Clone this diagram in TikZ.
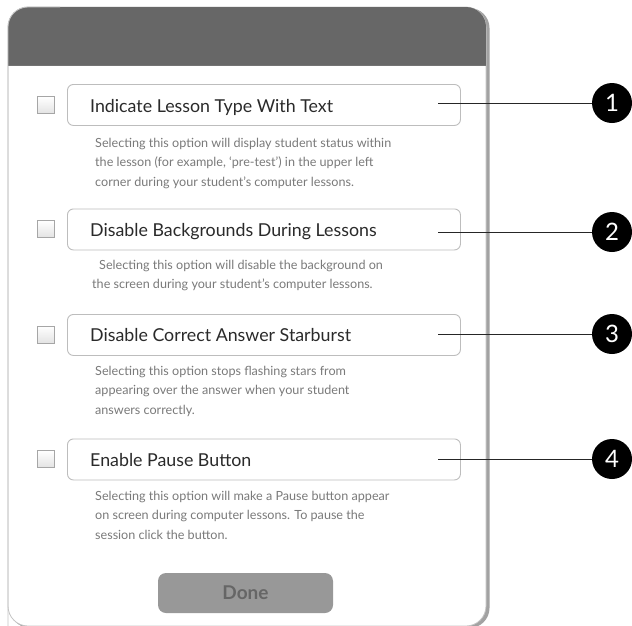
\documentclass[tikz,border=0pt]{standalone}
\usepackage{fontspec}
\setmainfont{Lato}
\definecolor{hdr}{HTML}{676767}
\definecolor{edge}{HTML}{C4C4C4}
\definecolor{shadowc}{HTML}{A2A2A2}
\definecolor{boxline}{HTML}{BDBDBD}
\definecolor{titlec}{HTML}{2A2A2A}
\definecolor{descc}{HTML}{7A7A7A}
\definecolor{donefill}{HTML}{989898}
\definecolor{donetext}{HTML}{666666}
\begin{document}
\begin{tikzpicture}[x=1pt,y=-1pt,
  optbox/.style={draw=boxline, line width=0.9pt, rounded corners=6pt, fill=white,
    minimum width=393pt, minimum height=41pt, anchor=north west, inner sep=0pt},
  chkbox/.style={draw=gray!70, line width=0.7pt, top color=white, bottom color=gray!22,
    minimum size=17pt, inner sep=0pt},
  titletext/.style={anchor=base west, inner sep=0pt, text=titlec, font=\fontsize{17.8}{19}\selectfont},
  desctext/.style={anchor=base west, inner sep=0pt, text=descc, font=\fontsize{12.6}{14}\selectfont},
  numdot/.style={circle, fill=black, minimum size=40pt, inner sep=0pt, text=white,
    font=\fontsize{24}{26}\selectfont},
  connector/.style={draw=black!85, line width=0.9pt},
  donebtn/.style={fill=donefill, rounded corners=8pt, minimum width=175pt, minimum height=40pt,
    inner sep=0pt, text=donetext, font=\bfseries\fontsize{19}{21}\selectfont}
]
\useasboundingbox (0,0) rectangle (632,625);
\begin{scope}
\clip (0,0) rectangle (632,625);
% panel shadow and panel
\fill[shadowc, rounded corners=20pt] (10,8) rectangle (489.5,628);
\fill[white, draw=edge, line width=0.8pt, rounded corners=20pt] (8,7) rectangle (486,626);
\begin{scope}
  \clip[rounded corners=20pt] (8,7) rectangle (486,626);
  \fill[hdr] (8,7) rectangle (486,65);
  \draw[black!55, line width=0.8pt] (8,65) -- (486,65);
\end{scope}
\draw[edge, line width=0.8pt, rounded corners=20pt] (8,626) -- (8,7) -- (60,7);

% option boxes
\node[optbox] (b1) at (67,84) {};
\node[optbox] (b2) at (67,208.5) {};
\node[optbox] (b3) at (67,314) {};
\node[optbox] (b4) at (67,438.5) {};

\node[chkbox] (k1) at (46,105) {};
\node[chkbox] (k2) at (46,229) {};
\node[chkbox] (k3) at (46,334.5) {};
\node[chkbox] (k4) at (46,459) {};

\node[titletext] (t1) at (90,112) {Indicate Lesson Type With Text};
\node[titletext] (t2) at (90,236) {Disable Backgrounds During Lessons};
\node[titletext] (t3) at (90,341.5) {Disable Correct Answer Starburst};
\node[titletext] (t4) at (90,466) {Enable Pause Button};

% descriptions
\node[desctext] (d1a) at (95,147) {Selecting this option will display student status within};
\node[desctext] (d1b) at (95,166.5) {the lesson (for example, `pre-test') in the upper left};
\node[desctext] (d1c) at (95,186) {corner during your student's computer lessons.};
\node[desctext] (d2a) at (99,269) {Selecting this option will disable the background on};
\node[desctext] (d2b) at (92,288.5) {the screen during your student's computer lessons.};
\node[desctext] (d3a) at (95,375) {Selecting this option stops flashing stars from};
\node[desctext] (d3b) at (95,394.5) {appearing over the answer when your student};
\node[desctext] (d3c) at (95,414) {answers correctly.};
\node[desctext] (d4a) at (95,500) {Selecting this option will make a Pause button appear};
\node[desctext] (d4b) at (95,519.5) {on screen during computer lessons. To pause the};
\node[desctext] (d4c) at (95,539) {session click the button.};

% callouts
\node[numdot] (c1) at (612,103) {1};
\node[numdot] (c2) at (612,232) {2};
\node[numdot] (c3) at (612,334) {3};
\node[numdot] (c4) at (612,459) {4};
\coordinate (l1) at (438,103);
\coordinate (l2) at (438,232);
\coordinate (l3) at (438,334);
\coordinate (l4) at (438,459);
\draw[connector] (l1) -- (c1);
\draw[connector] (l2) -- (c2);
\draw[connector] (l3) -- (c3);
\draw[connector] (l4) -- (c4);

% done button
\node[donebtn] (done) at (245.5,593) {Done};
\end{scope}
\end{tikzpicture}
\end{document}
